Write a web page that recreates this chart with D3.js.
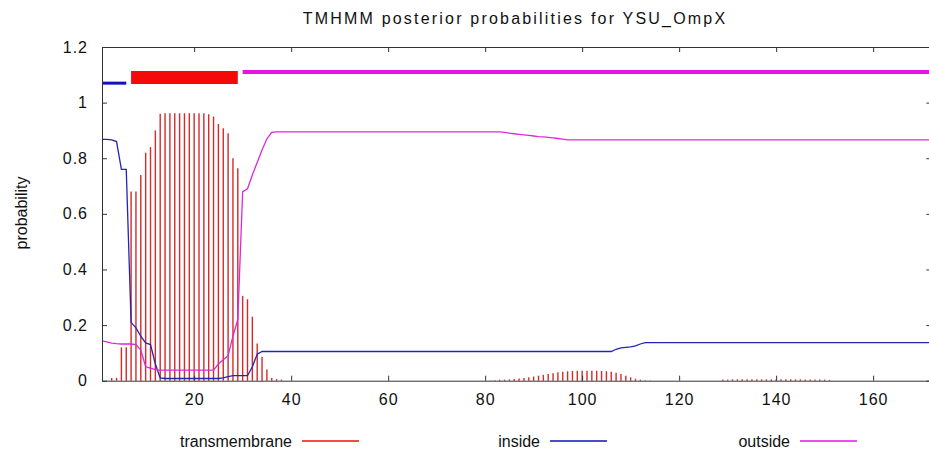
<!DOCTYPE html>
<html>
<head>
<meta charset="utf-8">
<script src="https://d3js.org/d3.v7.min.js"></script>
<style>
  body { margin: 0; background: #fff; }
  svg { display: block; }
  text { font-family: "Liberation Sans", Arial, sans-serif; fill: #111; }
</style>
</head>
<body>
<svg></svg>
<script>
    // posterior probabilities, one value per residue (1..172)
    const transmembrane = [
        0, 0, 0.01, 0.01, 0.12, 0.12, 0.68, 0.68, 0.74, 0.82,
        0.84, 0.90, 0.96, 0.962, 0.962, 0.962, 0.962, 0.962, 0.962, 0.962,
        0.962, 0.962, 0.958, 0.95, 0.923, 0.908, 0.89, 0.80, 0.764, 0.305,
        0.293, 0.23, 0.134, 0.085, 0.04, 0.01, 0.006, 0.004, 0, 0,
        0, 0, 0, 0, 0, 0, 0, 0, 0, 0,
        0, 0, 0, 0, 0, 0, 0, 0, 0, 0,
        0, 0, 0, 0, 0, 0, 0, 0, 0, 0,
        0, 0, 0, 0, 0, 0, 0, 0, 0, 0,
        0.001, 0.002, 0.003, 0.004, 0.005, 0.006, 0.008, 0.01, 0.012, 0.015,
        0.018, 0.021, 0.024, 0.027, 0.03, 0.032, 0.034, 0.035, 0.036, 0.036,
        0.036, 0.036, 0.036, 0.035, 0.034, 0.032, 0.029, 0.024, 0.018, 0.012,
        0.007, 0.004, 0.002, 0.001, 0, 0, 0, 0, 0, 0,
        0, 0, 0, 0, 0, 0, 0, 0, 0.004, 0.004,
        0.005, 0.005, 0.005, 0.005, 0.005, 0.005, 0.005, 0.005, 0.005, 0.005,
        0.005, 0.005, 0.005, 0.005, 0.005, 0.004, 0.004, 0.004, 0.004, 0.004,
        0.003, 0, 0, 0, 0, 0, 0, 0, 0, 0,
        0, 0, 0, 0, 0, 0, 0, 0, 0, 0,
        0, 0
    ];
    const inside = [
        0.868, 0.868, 0.866, 0.86, 0.76, 0.76, 0.21, 0.19, 0.16, 0.136,
        0.13, 0.06, 0.01, 0.008, 0.008, 0.008, 0.008, 0.008, 0.008, 0.008,
        0.008, 0.008, 0.008, 0.008, 0.008, 0.01, 0.015, 0.018, 0.018, 0.018,
        0.018, 0.05, 0.095, 0.105, 0.105, 0.105, 0.105, 0.105, 0.105, 0.105,
        0.105, 0.105, 0.105, 0.105, 0.105, 0.105, 0.105, 0.105, 0.105, 0.105,
        0.105, 0.105, 0.105, 0.105, 0.105, 0.105, 0.105, 0.105, 0.105, 0.105,
        0.105, 0.105, 0.105, 0.105, 0.105, 0.105, 0.105, 0.105, 0.105, 0.105,
        0.105, 0.105, 0.105, 0.105, 0.105, 0.105, 0.105, 0.105, 0.105, 0.105,
        0.105, 0.105, 0.105, 0.105, 0.105, 0.105, 0.105, 0.105, 0.105, 0.105,
        0.105, 0.105, 0.105, 0.105, 0.105, 0.105, 0.105, 0.105, 0.105, 0.105,
        0.105, 0.105, 0.105, 0.105, 0.105, 0.105, 0.113, 0.118, 0.12, 0.122,
        0.125, 0.132, 0.137, 0.137, 0.137, 0.137, 0.137, 0.137, 0.137, 0.137,
        0.137, 0.137, 0.137, 0.137, 0.137, 0.137, 0.137, 0.137, 0.137, 0.137,
        0.137, 0.137, 0.137, 0.137, 0.137, 0.137, 0.137, 0.137, 0.137, 0.137,
        0.137, 0.137, 0.137, 0.137, 0.137, 0.137, 0.137, 0.137, 0.137, 0.137,
        0.137, 0.137, 0.137, 0.137, 0.137, 0.137, 0.137, 0.137, 0.137, 0.137,
        0.137, 0.137, 0.137, 0.137, 0.137, 0.137, 0.137, 0.137, 0.137, 0.137,
        0.137, 0.137
    ];
    const outside = [
        0.143, 0.14, 0.135, 0.133, 0.132, 0.132, 0.132, 0.13, 0.11, 0.05,
        0.045, 0.04, 0.038, 0.038, 0.038, 0.038, 0.038, 0.038, 0.038, 0.038,
        0.038, 0.038, 0.038, 0.038, 0.06, 0.075, 0.09, 0.16, 0.22, 0.68,
        0.69, 0.74, 0.785, 0.83, 0.87, 0.893, 0.895, 0.895, 0.895, 0.895,
        0.895, 0.895, 0.895, 0.895, 0.895, 0.895, 0.895, 0.895, 0.895, 0.895,
        0.895, 0.895, 0.895, 0.895, 0.895, 0.895, 0.895, 0.895, 0.895, 0.895,
        0.895, 0.895, 0.895, 0.895, 0.895, 0.895, 0.895, 0.895, 0.895, 0.895,
        0.895, 0.895, 0.895, 0.895, 0.895, 0.895, 0.895, 0.895, 0.895, 0.895,
        0.895, 0.895, 0.895, 0.893, 0.89, 0.888, 0.886, 0.884, 0.882, 0.88,
        0.878, 0.877, 0.875, 0.873, 0.871, 0.869, 0.866, 0.866, 0.866, 0.866,
        0.866, 0.866, 0.866, 0.866, 0.866, 0.866, 0.866, 0.866, 0.866, 0.866,
        0.866, 0.866, 0.866, 0.866, 0.866, 0.866, 0.866, 0.866, 0.866, 0.866,
        0.866, 0.866, 0.866, 0.866, 0.866, 0.866, 0.866, 0.866, 0.866, 0.866,
        0.866, 0.866, 0.866, 0.866, 0.866, 0.866, 0.866, 0.866, 0.866, 0.866,
        0.866, 0.866, 0.866, 0.866, 0.866, 0.866, 0.866, 0.866, 0.866, 0.866,
        0.866, 0.866, 0.866, 0.866, 0.866, 0.866, 0.866, 0.866, 0.866, 0.866,
        0.866, 0.866, 0.866, 0.866, 0.866, 0.866, 0.866, 0.866, 0.866, 0.866,
        0.866, 0.866
    ];

    // predicted topology drawn above the curves
    const segType  = ["inside", "transmembrane", "outside"];
    const segStart = [1, 7, 30];
    const segEnd   = [6, 29, 172];
    const segLevel = [1.07, 1.09, 1.11];

    const xTicks = [20, 40, 60, 80, 100, 120, 140, 160];
    const yTicks = [0, 0.2, 0.4, 0.6, 0.8, 1, 1.2];
    const seriesNames = ["transmembrane", "inside", "outside"];

    const width = 929, height = 457;
    const colors = {transmembrane: "#d42a2a", inside: "#2424b4", outside: "#dc28dc"};
    const segColors = {transmembrane: "#f50a0a", inside: "#1212b8", outside: "#e414e4"};
    const segWidth = {transmembrane: 13, inside: 3, outside: 4};

    const svg = d3.select("svg")
        .attr("width", width)
        .attr("height", height);

    const x = d3.scaleLinear().domain([1, 172]).range([102, 931.35]);
    const y = d3.scaleLinear().domain([0, 1.2]).range([380.7, 47]);

    const positions = transmembrane.map((_, i) => i + 1);

    // transmembrane impulses
    svg.append("g")
        .selectAll("line")
        .data(positions.filter(p => transmembrane[p - 1] > 0))
        .join("line")
        .attr("x1", p => x(p)).attr("x2", p => x(p))
        .attr("y1", y(0)).attr("y2", p => y(transmembrane[p - 1]))
        .attr("stroke", colors.transmembrane)
        .attr("stroke-width", 1.4);

    const line = arr => d3.line()
        .x(p => x(p))
        .y(p => y(arr[p - 1]))(positions);

    svg.append("path")
        .attr("d", line(inside))
        .attr("fill", "none")
        .attr("stroke", colors.inside)
        .attr("stroke-width", 1.3);
    svg.append("path")
        .attr("d", line(outside))
        .attr("fill", "none")
        .attr("stroke", colors.outside)
        .attr("stroke-width", 1.3);

    // topology bars
    svg.append("g")
        .selectAll("line")
        .data(segType.map((t, i) => ({t, s: segStart[i], e: segEnd[i], v: segLevel[i]})))
        .join("line")
        .attr("x1", d => x(d.s)).attr("x2", d => x(d.e))
        .attr("y1", d => y(d.v)).attr("y2", d => y(d.v))
        .attr("stroke", d => segColors[d.t])
        .attr("stroke-width", d => segWidth[d.t]);

    // frame with inward ticks on all sides
    const frame = svg.append("g").attr("class", "frame");
    frame.append("g")
        .attr("transform", `translate(0, ${y(0)})`)
        .call(d3.axisBottom(x).tickValues(xTicks).tickSize(-5).tickPadding(13).tickSizeOuter(0));
    frame.append("g")
        .attr("transform", `translate(0, ${y(1.2)})`)
        .call(d3.axisTop(x).tickValues(xTicks).tickSize(-5).tickFormat("").tickSizeOuter(0));
    frame.append("g")
        .attr("transform", `translate(${x(1)}, 0)`)
        .call(d3.axisLeft(y).tickValues(yTicks).tickSize(-5).tickPadding(14).tickSizeOuter(0)
            .tickFormat(d => String(d)));
    frame.append("g")
        .attr("transform", `translate(${x(172)}, 0)`)
        .call(d3.axisRight(y).tickValues(yTicks).tickSize(-5).tickFormat("").tickSizeOuter(0));

    frame.selectAll(".domain").attr("stroke", "#333");
    frame.selectAll(".tick line").attr("stroke", "#333");
    frame.selectAll(".tick text")
        .attr("font-family", "Liberation Sans, Arial, sans-serif")
        .attr("font-size", 16)
        .attr("letter-spacing", 1)
        .attr("fill", "#111");

    // title and axis label
    svg.append("text")
        .attr("x", 515)
        .attr("y", 24)
        .attr("text-anchor", "middle")
        .attr("font-size", 16)
        .attr("letter-spacing", 2.2)
        .text("TMHMM posterior probabilities for YSU_OmpX");

    svg.append("text")
        .attr("transform", "translate(27, 213) rotate(-90)")
        .attr("text-anchor", "middle")
        .attr("font-size", 16)
        .text("probability");

    // legend
    const legendX = [292, 540, 790];
    const legend = svg.append("g")
        .selectAll("g")
        .data(seriesNames)
        .join("g")
        .attr("transform", (d, i) => `translate(${legendX[i]}, 441)`);
    legend.append("text")
        .attr("text-anchor", "end")
        .attr("dy", "0.35em")
        .attr("font-size", 16)
        .text(d => d);
    legend.append("line")
        .attr("x1", 10).attr("x2", 67)
        .attr("stroke", d => segColors[d])
        .attr("stroke-width", 1.5);
</script>
</body>
</html>
